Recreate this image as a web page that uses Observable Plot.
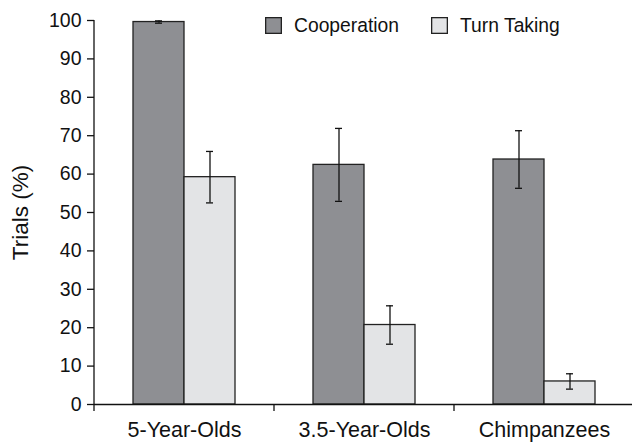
<!DOCTYPE html>
<html>
<head>
<meta charset="utf-8">
<script src="https://cdn.jsdelivr.net/npm/d3@7"></script>
<script src="https://cdn.jsdelivr.net/npm/@observablehq/plot@0.6"></script>
<style>
  html, body { margin: 0; padding: 0; background: #fff; overflow: hidden; }
  #wrap { position: relative; width: 632px; height: 446px; }
  #legend { position: absolute; left: 265px; top: 9px; width: 360px; }
  #legend > div { flex-wrap: nowrap !important; white-space: nowrap; }
  #legend span { margin-right: 32px !important; color: #111; }
  #legend svg { margin-right: 12px !important; }
  #legend svg rect { stroke: #222; stroke-width: 1.3px; x: 0.65px; y: 0.65px; width: calc(100% - 1.3px); height: calc(100% - 1.3px); }
  [aria-label="y-axis label"] { font-size: 22.5px; }
</style>
</head>
<body>
<div id="wrap"></div>
<script>
const groups = ["5-Year-Olds", "3.5-Year-Olds", "Chimpanzees"];
const series = ["Cooperation", "Turn Taking"];
const cooperation = [99.6, 62.4, 63.8];
const cooperationErr = [0.3, 9.5, 7.5];
const turnTaking = [59.2, 20.7, 6.0];
const turnTakingErr = [6.7, 5.0, 2.0];
const yTicks = [0, 10, 20, 30, 40, 50, 60, 70, 80, 90, 100];
const colors = ["#8e8f93", "#e3e4e6"];

const rows = [];
groups.forEach((g, i) => {
  rows.push({group: g, series: series[0], value: cooperation[i], err: cooperationErr[i]});
  rows.push({group: g, series: series[1], value: turnTaking[i], err: turnTakingErr[i]});
});

const FONT = "'Liberation Sans', Arial, sans-serif";

const chart = Plot.plot({
  width: 632,
  height: 446,
  marginLeft: 94,
  marginRight: -2,
  marginTop: 20,
  marginBottom: 42,
  style: {fontFamily: FONT, fontSize: "19.5px", color: "#111", background: "#fff"},
  fx: {domain: groups, padding: 0, label: null},
  x: {domain: series, paddingInner: 0, paddingOuter: 0.75, axis: null},
  y: {domain: [0, 100]},
  color: {domain: series, range: colors},
  marks: [
    Plot.barY(rows, {fx: "group", x: "series", y: "value", fill: "series", stroke: "#222", strokeWidth: 1.3}),
    Plot.ruleX(rows, {fx: "group", x: "series", y1: d => d.value - d.err, y2: d => d.value + d.err, stroke: "#111", strokeWidth: 1.3}),
    Plot.tickY(rows, {fx: "group", x: "series", y: d => d.value - d.err, stroke: "#111", strokeWidth: 1.3, insetLeft: 22, insetRight: 22}),
    Plot.tickY(rows, {fx: "group", x: "series", y: d => d.value + d.err, stroke: "#111", strokeWidth: 1.3, insetLeft: 22, insetRight: 22}),
    Plot.ruleY([0], {stroke: "#111", strokeWidth: 1.3}),
    Plot.axisY({ticks: yTicks, tickSize: 7, tickPadding: 6, stroke: "#111", strokeWidth: 1.3, strokeOpacity: 1,
      label: "Trials (%)", labelAnchor: "center", labelArrow: "none", labelOffset: 82}),
    Plot.axisFx({anchor: "bottom", tickSize: 0, tickPadding: 17, fontSize: 21.5, label: null})
  ]
});

// axis line on the value axis and tick marks at the group boundaries on the category axis
const fxs = chart.scale("fx");
const ys = chart.scale("y");
const tg = d3.select(chart).append("g").attr("stroke", "#111").attr("stroke-width", 1.3);
const xLeft = fxs.apply(groups[0]);
tg.append("line").attr("x1", xLeft).attr("x2", xLeft).attr("y1", ys.apply(0)).attr("y2", ys.apply(100));
groups.forEach(g => {
  const x0 = fxs.apply(g);
  tg.append("line").attr("x1", x0).attr("x2", x0).attr("y1", ys.apply(0)).attr("y2", ys.apply(0) + 7);
});

const wrap = document.getElementById("wrap");
wrap.appendChild(chart);
const legend = Plot.legend({color: {domain: series, range: colors}, swatchSize: 17,
  style: {fontFamily: FONT, fontSize: "19.3px"}});
const ldiv = document.createElement("div");
ldiv.id = "legend";
ldiv.appendChild(legend);
wrap.appendChild(ldiv);
</script>
</body>
</html>
